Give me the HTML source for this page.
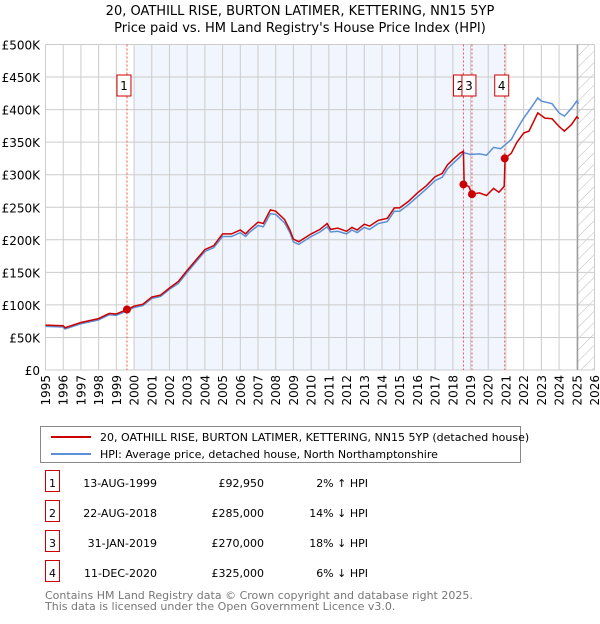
<!DOCTYPE html>
<html><head><meta charset="utf-8"><style>
body{margin:0;background:#fff;font-family:"DejaVu Sans","Liberation Sans",sans-serif;}
svg text{font-family:"DejaVu Sans","Liberation Sans",sans-serif;}
</style></head><body>
<svg id="chart" width="600" height="620" xmlns="http://www.w3.org/2000/svg">
<defs><pattern id="hatch" patternUnits="userSpaceOnUse" width="8" height="8" patternTransform="rotate(45)"><line x1="0" y1="0" x2="0" y2="8" stroke="#bbb" stroke-width="1"/></pattern></defs>
<text x="300" y="15" text-anchor="middle" font-size="13">20, OATHILL RISE, BURTON LATIMER, KETTERING, NN15 5YP</text>
<text x="300" y="32" text-anchor="middle" font-size="13">Price paid vs. HM Land Registry's House Price Index (HPI)</text>
<g id="plot"></g>
<g>
<rect x="40.5" y="426.5" width="480" height="36" fill="#fff" stroke="#888"/>
<line x1="51" y1="437" x2="91" y2="437" stroke="#cc0000" stroke-width="2"/>
<text x="100" y="441" font-size="11">20, OATHILL RISE, BURTON LATIMER, KETTERING, NN15 5YP (detached house)</text>
<line x1="51" y1="454" x2="91" y2="454" stroke="#5b8fd6" stroke-width="2"/>
<text x="100" y="458" font-size="11">HPI: Average price, detached house, North Northamptonshire</text>
</g>
<g id="table"></g>
<text x="45" y="599" font-size="11" fill="#777">Contains HM Land Registry data © Crown copyright and database right 2025.</text>
<text x="45" y="610" font-size="11" fill="#777">This data is licensed under the Open Government Licence v3.0.</text>
</svg>
<script>
const yTicks=[0,50,100,150,200,250,300,350,400,450,500];
const yTickLabels=["£0","£50K","£100K","£150K","£200K","£250K","£300K","£350K","£400K","£450K","£500K"];
const xYears=[1995,1996,1997,1998,1999,2000,2001,2002,2003,2004,2005,2006,2007,2008,2009,2010,2011,2012,2013,2014,2015,2016,2017,2018,2019,2020,2021,2022,2023,2024,2025,2026];
const redT=[1995,1996,1996.1,1997,1998,1998.6,1999,1999.62,2000,2000.5,2001,2001.5,2002,2002.5,2003,2003.5,2004,2004.5,2005,2005.5,2006,2006.3,2006.5,2007,2007.3,2007.7,2008,2008.5,2008.8,2009,2009.3,2010,2010.5,2010.9,2011.1,2011.5,2012,2012.3,2012.6,2013,2013.3,2013.8,2014.3,2014.7,2015,2015.5,2016,2016.5,2017,2017.4,2017.7,2018,2018.4,2018.6,2018.64,2018.9,2019.08,2019.5,2019.9,2020.3,2020.6,2020.9,2020.95,2021.3,2021.6,2022,2022.3,2022.8,2023.2,2023.6,2024,2024.3,2024.7,2025,2025.1];
const redV=[69,68,65,73,79,87,86,93,98,101,112,115,126,136,153,169,185,191,209,209,215,209,215,227,225,246,244,231,215,201,197,209,216,225,216,218,213,219,215,224,221,230,233,249,249,259,272,283,297,302,315,323,333,336,285,282,270,272,268,279,273,282,325,333,349,364,367,395,387,386,374,367,377,389,386];
const hpiT=[1995,1996,1996.1,1997,1998,1998.6,1999,1999.62,2000,2000.5,2001,2001.5,2002,2002.5,2003,2003.5,2004,2004.5,2005,2005.5,2006,2006.3,2006.5,2007,2007.3,2007.7,2008,2008.5,2008.8,2009,2009.3,2010,2010.5,2010.9,2011.1,2011.5,2012,2012.3,2012.6,2013,2013.3,2013.8,2014.3,2014.7,2015,2015.5,2016,2016.5,2017,2017.4,2017.7,2018,2018.4,2018.6,2019,2019.5,2019.9,2020.3,2020.7,2020.95,2021.3,2021.6,2022,2022.4,2022.8,2023,2023.6,2024,2024.3,2024.7,2025,2025.1];
const hpiV=[67,66,63,71,77,85,84,91,96,99,110,113,124,133,150,166,182,188,205,205,211,205,211,222,220,240,239,226,211,197,193,205,212,220,212,213,209,215,211,219,216,225,228,244,244,254,266,278,291,296,309,317,327,334,331,332,330,342,340,346,354,369,387,402,418,413,409,395,390,402,413,409];
const saleNums=["1","2","3","4"];
const saleT=[1999.6,2018.6,2019.08,2020.93];
const saleV=[92.95,285,270,325];
const saleDates=["13-AUG-1999","22-AUG-2018","31-JAN-2019","11-DEC-2020"];
const salePrices=["£92,950","£285,000","£270,000","£325,000"];
const saleHpi=["2% ↑ HPI","14% ↓ HPI","18% ↓ HPI","6% ↓ HPI"];
const NS="http://www.w3.org/2000/svg";
const X0=45.5,X1=594.5,Y0=370,Y1=44.5;
const xs=t=>X0+(t-1995)/(2026-1995)*(X1-X0);
const ys=v=>Y0-v/500*(Y0-Y1);
const plot=document.getElementById('plot');
function mk(tag,attrs,parent){const e=document.createElementNS(NS,tag);for(const k in attrs)e.setAttribute(k,attrs[k]);(parent||plot).appendChild(e);return e;}
let e;
e=mk('rect',{x:xs(2000),y:Y1,width:xs(saleT[3])-xs(2000),height:Y0-Y1,fill:'#eef3fc',opacity:0.8});


e=mk('rect',{x:xs(2025.05),y:Y1,width:X1-xs(2025.05),height:Y0-Y1,fill:'url(#hatch)'});


yTicks.forEach((v,i)=>{
 e=mk('line',{x1:X0,x2:X1,y1:ys(v),y2:ys(v),stroke:'#ccc','stroke-width':1});
 
 
 e=mk('text',{x:40,y:ys(v)+5,'text-anchor':'end','font-size':12});
 e.textContent=yTickLabels[i];
 
 
});
xYears.forEach(y=>{
 e=mk('line',{x1:xs(y),x2:xs(y),y1:Y1,y2:Y0,stroke:'#ccc','stroke-width':1});
 
 
 e=mk('text',{x:0,y:0,'font-size':12,'text-anchor':'end',transform:`translate(${xs(y)+4.5},375) rotate(-90)`});
 e.textContent=y;
 
 
});
e=mk('line',{x1:xs(2025.05),x2:xs(2025.05),y1:Y1,y2:Y0,stroke:'#999','stroke-width':1.2});


saleT.forEach((t,i)=>{
 e=mk('line',{x1:xs(t),x2:xs(t),y1:Y1,y2:Y0,stroke:'#ee5555','stroke-width':1,'stroke-dasharray':'2,2'});
 
 
});
const pts=(T,V)=>T.map((t,i)=>xs(t).toFixed(1)+','+ys(V[i]).toFixed(1)).join(' ');
e=mk('polyline',{points:pts(hpiT,hpiV),fill:'none',stroke:'#5b8fd6','stroke-width':1.5});


e=mk('polyline',{points:pts(redT,redV),fill:'none',stroke:'#cc0000','stroke-width':1.5});


saleT.forEach((t,i)=>{
 e=mk('circle',{cx:xs(t),cy:ys(saleV[i]),r:4,fill:'#cc0000'});
 
 
 const bx=xs(t)-10;
 e=mk('rect',{x:bx,y:75,width:14,height:21,fill:'#fff',stroke:'#cc0000','stroke-width':1});
 
 
 e=mk('text',{x:bx+7,y:90,'text-anchor':'middle','font-size':12});
 e.textContent=saleNums[i];
 
 
});
const tbl=document.getElementById('table');
saleNums.forEach((n,i)=>{
 const y=483+i*30;
 e=mk('rect',{x:45.5,y:y-12.5,width:14,height:21,fill:'#fff',stroke:'#cc0000'},tbl);
 
 
 e=mk('text',{x:52.5,y:y+4,'text-anchor':'middle','font-size':11},tbl);
 e.textContent=n;
 
 
 e=mk('text',{x:157,y:y+4,'text-anchor':'end','font-size':11},tbl);
 e.textContent=saleDates[i];
 
 
 e=mk('text',{x:264,y:y+4,'text-anchor':'end','font-size':11},tbl);
 e.textContent=salePrices[i];
 
 
 e=mk('text',{x:368,y:y+4,'text-anchor':'end','font-size':11},tbl);
 e.textContent=saleHpi[i];
 
 
});
</script>
</body></html>
